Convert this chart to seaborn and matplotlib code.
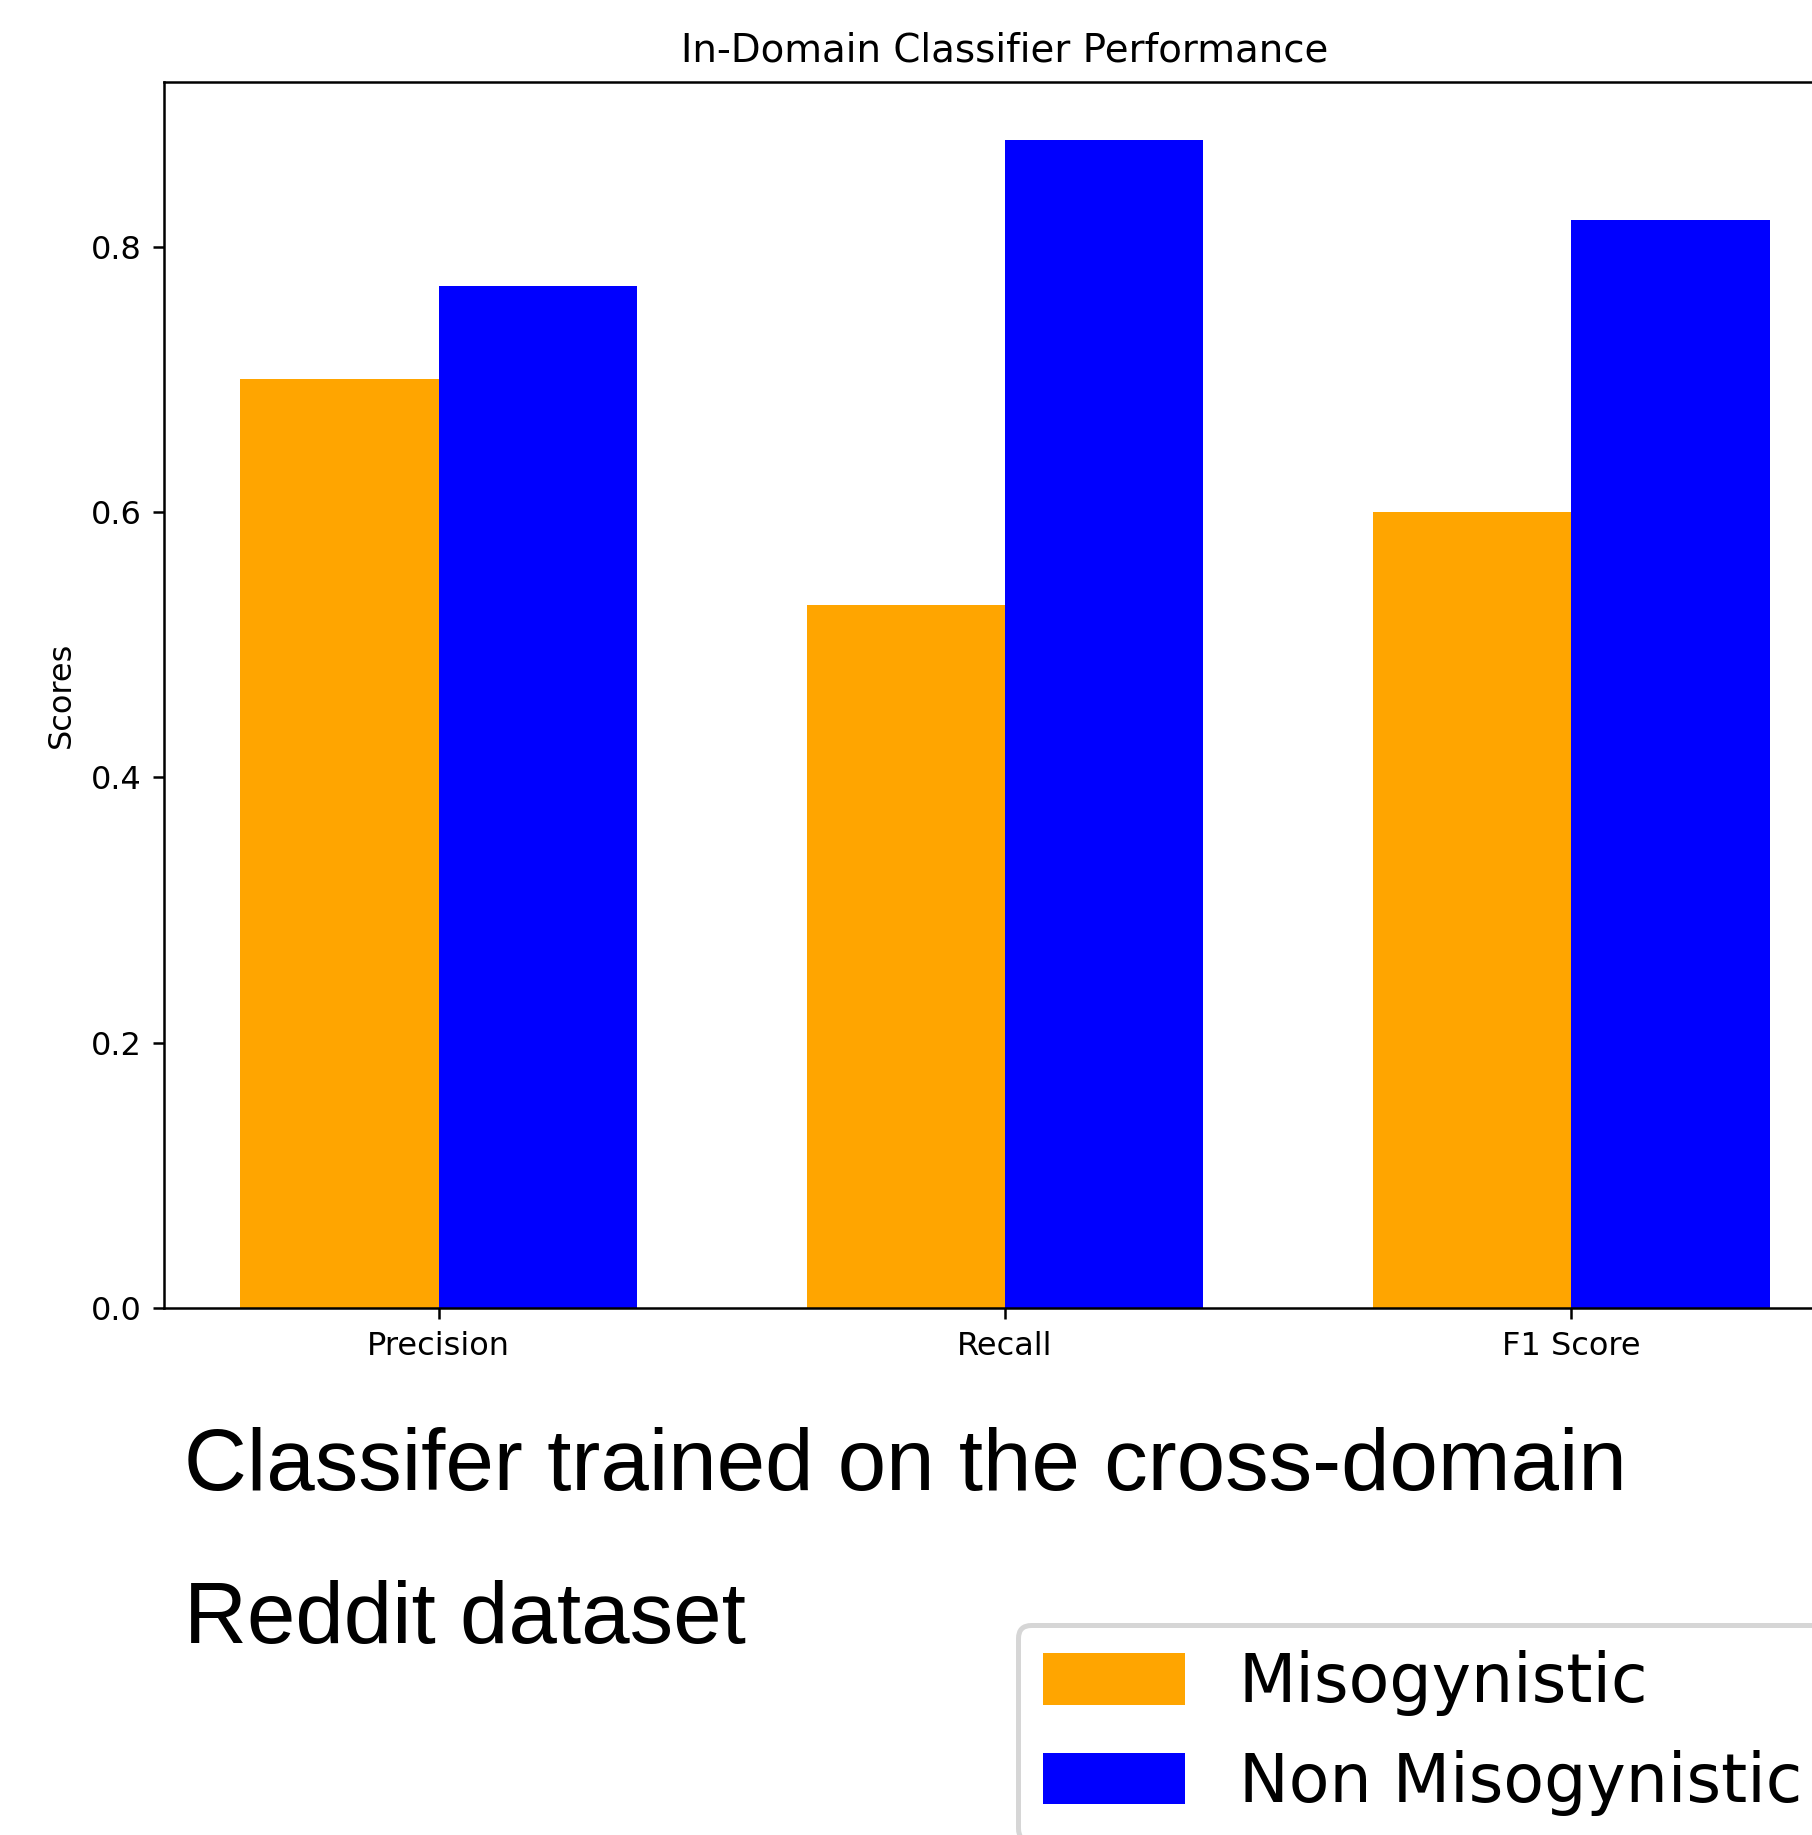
import pandas as pd
import matplotlib
matplotlib.use("Agg")
import matplotlib.pyplot as plt
import seaborn as sns

# Scores
metrics = ["Precision", "Recall", "F1 Score"]
misogynistic = [0.70, 0.53, 0.60]
non_misogynistic = [0.77, 0.88, 0.82]
series_names = ["Misogynistic", "Non Misogynistic"]
series_colors = ["orange", "blue"]

chart_title = "In-Domain Classifier Performance"
y_label = "Scores"
caption_lines = ["Classifer trained on the cross-domain", "Reddit dataset"]

W, H = 1812, 1835


def build_frame():
    rows = []
    for name, values in zip(series_names, [misogynistic, non_misogynistic]):
        for metric, v in zip(metrics, values):
            rows.append({"Metric": metric, "Class": name, "Score": v})
    return pd.DataFrame(rows)


def plot_chart(df):
    fig = plt.figure(figsize=(W / 100, H / 100), dpi=100)
    fig.patch.set_facecolor("white")

    # axes placed in pixel terms; right edge runs past the figure like the cropped original
    left, right, top, bottom = 164, 1846, 82, 1308
    ax = fig.add_axes([left / W, 1 - bottom / H, (right - left) / W, (bottom - top) / H])

    sns.barplot(data=df, x="Metric", y="Score", hue="Class", order=metrics,
                hue_order=series_names, palette=series_colors, saturation=1,
                width=0.7, linewidth=0, ax=ax)

    ax.set_xlim(-0.485, 2.485)
    ax.set_ylim(0, 0.924)
    ax.set_yticks([0.0, 0.2, 0.4, 0.6, 0.8])
    ax.set_xlabel("")
    ax.set_ylabel(y_label, fontsize=23, labelpad=10)
    ax.set_title(chart_title, fontsize=27.9, pad=15)
    ax.tick_params(labelsize=23, length=7.9, width=1.8, pad=7.9)
    ax.tick_params(axis="x", pad=9)
    for sp in ax.spines.values():
        sp.set_linewidth(1.8)

    if ax.get_legend() is not None:
        ax.get_legend().remove()

    leg = ax.legend(handles=ax.containers, labels=series_names,
                    loc="upper left", bbox_to_anchor=(1018 / W, 1 - 1625 / H),
                    bbox_transform=fig.transFigure, borderaxespad=0,
                    fontsize=48, handlelength=2.13, handleheight=0.81,
                    handletextpad=0.8, labelspacing=0.5, borderpad=0.38)
    leg.get_frame().set_linewidth(3.6)

    # caption under the chart
    fig.text(184 / W, 1 - 1490 / H, caption_lines[0], fontsize=62.7,
             family="Liberation Sans", va="baseline", ha="left")
    fig.text(184 / W, 1 - 1643 / H, caption_lines[1], fontsize=62.7,
             family="Liberation Sans", va="baseline", ha="left")

    fig.savefig("out.png", dpi=100)
    plt.close(fig)


if __name__ == "__main__":
    plot_chart(build_frame())
